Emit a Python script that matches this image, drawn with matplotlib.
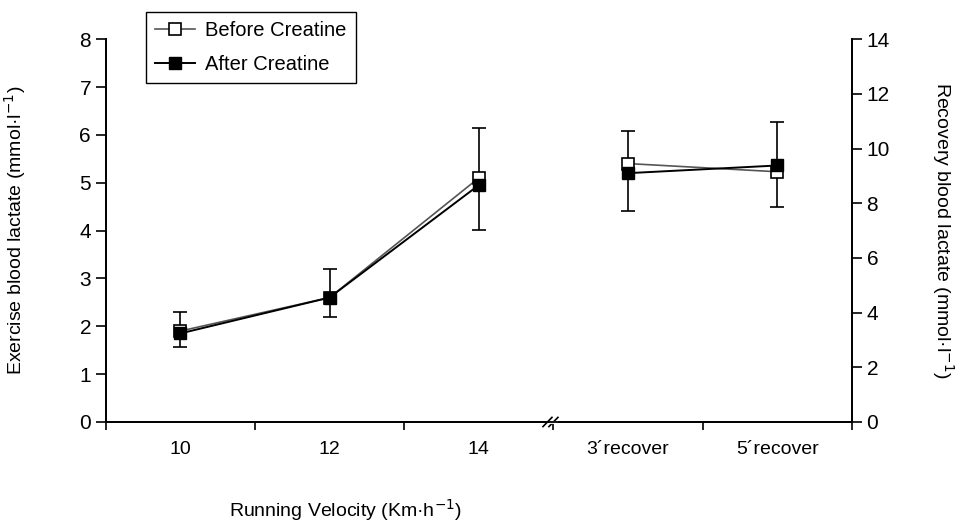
import matplotlib
matplotlib.use('Agg')
import matplotlib.pyplot as plt
import matplotlib.transforms as mtransforms
import numpy as np

plt.rcParams['font.family'] = ['Liberation Sans', 'DejaVu Sans']

categories = ['10', '12', '14', '3\u00b4recover', '5\u00b4recover']

# exercise lactate (left axis), mmol/l
ex_before = [1.90, 2.60, 5.10]
ex_after = [1.85, 2.60, 4.95]
ex_err_lo = [1.57, 2.19, 4.01]
ex_err_hi = [2.30, 3.19, 6.14]

# recovery lactate (right axis), mmol/l
rec_before = [9.45, 9.15]
rec_after = [9.10, 9.38]
rec_err_lo = [7.71, 7.86]
rec_err_hi = [10.64, 10.97]

fig = plt.figure(figsize=(9.6, 5.22), dpi=100)
ax = fig.add_axes([0.110, 0.1916, 0.7775, 0.7334])
ax2 = ax.twinx()

x = np.arange(len(categories)) + 0.5
xe = x[:3]
xr = x[3:]

gray = '#555555'

# error bars
ex_mid = np.array(ex_before)
ax.errorbar(xe, ex_mid, yerr=[ex_mid - np.array(ex_err_lo), np.array(ex_err_hi) - ex_mid],
            fmt='none', ecolor='black', elinewidth=1.2, capsize=5, capthick=1.2, zorder=2)
rec_mid = np.array(rec_before)
ax2.errorbar(xr, rec_mid, yerr=[rec_mid - np.array(rec_err_lo), np.array(rec_err_hi) - rec_mid],
             fmt='none', ecolor='black', elinewidth=1.2, capsize=5, capthick=1.2, zorder=2)

ax.plot(xe, ex_before, color=gray, lw=1.2, marker='s', ms=8, mfc='white', mec='black',
        mew=1.2, zorder=3, label='Before Creatine')
ax.plot(xe, ex_after, color='black', lw=1.4, marker='s', ms=8, mfc='black', mec='black',
        zorder=4, label='After Creatine')
ax2.plot(xr, rec_before, color=gray, lw=1.2, marker='s', ms=8, mfc='white', mec='black',
         mew=1.2, zorder=3)
ax2.plot(xr, rec_after, color='black', lw=1.4, marker='s', ms=8, mfc='black', mec='black',
         zorder=4)

ax.set_xlim(0, 5)
ax.set_ylim(0, 8)
ax2.set_ylim(0, 14)
ax.set_yticks(range(0, 9))
ax2.set_yticks(range(0, 15, 2))

ax.set_xticks(range(0, 6))
ax.set_xticklabels([])
ax.set_xticks(x, minor=True)
ax.set_xticklabels(categories, minor=True)
ax.tick_params(axis='x', which='major', direction='out', length=6, width=1.2)
ax.tick_params(axis='x', which='minor', length=0, pad=14, labelsize=14)
ax.tick_params(axis='y', direction='out', length=7, width=1.2, labelsize=15)
ax2.tick_params(axis='y', direction='out', length=7, width=1.2, labelsize=15)

for a in (ax, ax2):
    a.spines['top'].set_visible(False)
    for s in ('left', 'right', 'bottom'):
        a.spines[s].set_linewidth(1.3)

ax.set_ylabel('Exercise blood lactate (mmol\u00b7l$^{-1}$)', fontsize=14)
ax.yaxis.set_label_coords(-0.104, 0.5)
ax2.set_ylabel('Recovery blood lactate (mmol\u00b7l$^{-1}$)', fontsize=14, rotation=270,
               va='bottom')
ax2.yaxis.set_label_coords(1.105, 0.5)
fig.text(0.36, 0.01, 'Running Velocity (Km\u00b7h$^{-1}$)', fontsize=14, ha='center')

# axis break marks
trans = mtransforms.blended_transform_factory(ax.transData, ax.transAxes)
for dx in (-0.04, 0.0):
    ax.plot([3.0 + dx - 0.03, 3.0 + dx + 0.03], [-0.012, 0.012], color='black', lw=1.2,
            transform=trans, clip_on=False)
ax.plot([2.98, 3.02], [0, 0], color='white', lw=2, transform=trans, clip_on=False, zorder=5)

fig.legend(loc='upper left', bbox_to_anchor=(0.152, 0.977), fontsize=14.5, frameon=True,
           fancybox=False, edgecolor='black', framealpha=1, handlelength=2.0,
           borderpad=0.45, labelspacing=0.75, borderaxespad=0, handletextpad=0.5)

fig.savefig('out.png', dpi=100)
